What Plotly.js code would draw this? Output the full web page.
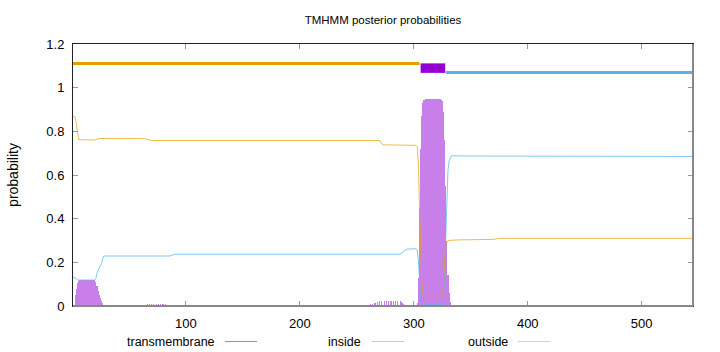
<!DOCTYPE html>
<html>
<head>
<meta charset="utf-8">
<script src="https://cdn.plot.ly/plotly-3.0.1.min.js"></script>
<style>html,body{margin:0;padding:0;background:#fff}#chart{width:720px;height:352px}</style>
</head>
<body>
<div id="chart"></div>
<script>
// Chart values
const titleText = "TMHMM posterior probabilities";
const yLabel = "probability";
const seriesNames = ["transmembrane", "inside", "outside"];
const xTicks = [100, 200, 300, 400, 500];
const yTicks = [0, 0.2, 0.4, 0.6, 0.8, 1, 1.2];
const seqLength = 545;

// transmembrane posterior (impulses per residue)
const tmX = [3,4,5,6,7,8,9,10,11,12,13,14,15,16,17,18,19,20,21,22,23,24,25,26,27,28,
  62,63,64,66,68,70,72,74,76,78,80,82,84,86,87,88,89,92,96,100,104,108,112,116,
  255,258,262,264,266,268,270,272,274,276,278,280,282,284,286,288,289,290,291,292,293,294,
  302,303,304,305,306,307,308,309,310,311,312,313,314,315,316,317,318,319,320,321,322,323,324,325,326,327,328,329,330,331,332,333,
  350,354,358,362,366,370,373];
const tmY = [0.05,0.08,0.105,0.115,0.119,0.12,0.12,0.12,0.12,0.12,0.12,0.12,0.12,0.12,0.12,0.12,0.12,0.12,0.11,0.09,0.07,0.05,0.035,0.025,0.012,0.004,
  0.002,0.004,0.006,0.007,0.007,0.007,0.007,0.007,0.007,0.007,0.007,0.007,0.006,0.006,0.005,0.003,0.002,0.001,0.001,0.001,0.001,0.001,0.001,0.001,
  0.002,0.004,0.008,0.011,0.015,0.02,0.023,0.024,0.024,0.024,0.024,0.024,0.024,0.024,0.023,0.022,0.02,0.015,0.01,0.006,0.003,0.001,
  0.003,0.015,0.13,0.45,0.72,0.87,0.93,0.945,0.95,0.95,0.95,0.95,0.95,0.95,0.95,0.95,0.95,0.95,0.95,0.95,0.95,0.948,0.945,0.94,0.89,0.76,0.55,0.30,0.14,0.06,0.02,0.005,
  0.003,0.003,0.003,0.003,0.003,0.003,0.003];

// inside posterior
const inX = [1,3,5,20,21,22,24,26,27,28,86,88,90,288,290,292,294,302,303,304,305,306,307,309,325,326,327,328,329,330,331,332,333,345,545];
const inY = [0.130,0.128,0.119,0.119,0.125,0.150,0.175,0.195,0.215,0.229,0.229,0.233,0.237,0.237,0.245,0.255,0.261,0.262,0.255,0.21,0.10,0.04,0.015,0.006,0.006,0.03,0.15,0.35,0.52,0.62,0.665,0.68,0.688,0.687,0.685];

// outside posterior
const outX = [1,3,4,5,6,20,22,24,63,66,70,270,271,273,302,303,304,305,306,307,308,309,325,326,327,328,329,330,340,370,375,545];
const outY = [0.870,0.865,0.83,0.78,0.762,0.760,0.763,0.767,0.767,0.763,0.758,0.758,0.748,0.738,0.736,0.73,0.66,0.45,0.24,0.11,0.06,0.047,0.047,0.08,0.20,0.27,0.292,0.300,0.303,0.305,0.310,0.310];

// predicted topology segments (top bar)
const topoStart = [1, 306, 328];
const topoEnd = [305, 327.6, 545];
const topoLevel = [1.111, 1.0895, 1.0695];

const topoColors = ["#e69f00", "#9400d3", "#56b4e9"];
const topoWidths = [3, 9.5, 3];
const curveColors = ["rgba(148,0,211,0.5)", "rgba(86,180,233,0.75)", "rgba(230,159,0,0.7)"];
const legendColors = ["rgba(148,0,211,0.55)", "rgba(86,180,233,0.55)", "rgba(230,159,0,0.5)"];

const traces = [];
traces.push({type:"bar", x: tmX, y: tmY, width: 1, name: seriesNames[0],
  marker:{color: curveColors[0], line:{width:0}}, hoverinfo:"skip", showlegend:false});
traces.push({type:"scatter", mode:"lines", x: inX, y: inY, name: seriesNames[1],
  line:{color: curveColors[1], width:1}, showlegend:false});
traces.push({type:"scatter", mode:"lines", x: outX, y: outY, name: seriesNames[2],
  line:{color: curveColors[2], width:1}, showlegend:false});
for (let i = 0; i < topoStart.length; i++) {
  traces.push({type:"scatter", mode:"lines", x:[topoStart[i], topoEnd[i]], y:[topoLevel[i], topoLevel[i]],
    line:{color: topoColors[i], width: topoWidths[i]}, showlegend:false, hoverinfo:"skip"});
}

const fontFam = "Liberation Sans, Arial, sans-serif";
// legend drawn gnuplot-style: text then sample line
const legTextRight = [217, 363, 510];
const legLineStart = [225, 372, 518];
const legLineLen = 32;
const L = 73, R = 693, T = 44, B = 306;
const px2x = p => (p - L) / (R - L);
const py2y = p => (B - p) / (B - T);
const legY = 341.5;
const annotations = [], shapes = [];
for (let i = 0; i < 3; i++) {
  annotations.push({text: seriesNames[i], xref:"paper", yref:"paper", x: px2x(legTextRight[i]), y: py2y(legY),
    xanchor:"right", yanchor:"middle", showarrow:false, font:{family:fontFam, size:12.5, color:"#000"}});
  shapes.push({type:"line", xref:"paper", yref:"paper", x0: px2x(legLineStart[i]), x1: px2x(legLineStart[i]+legLineLen),
    y0: py2y(legY), y1: py2y(legY), line:{color: legendColors[i], width:1}});
}
// gray bottom and right borders as in the reference
shapes.push({type:"line", xref:"paper", yref:"paper", x0:0, x1:1, y0:0, y1:0, line:{color:"#888", width:2}});
shapes.push({type:"line", xref:"paper", yref:"paper", x0:1, x1:1, y0:0, y1:1, line:{color:"#888", width:2}});

const layout = {
  width:720, height:352,
  margin:{l:L, r:720-R, t:T, b:352-B, pad:0},
  paper_bgcolor:"#fff", plot_bgcolor:"#fff",
  font:{family:fontFam, size:12, color:"#000"},
  title:{text: titleText, x:0.5, xref:"paper", xanchor:"center", y:1-20/352, yref:"container", yanchor:"middle",
    font:{family:fontFam, size:11.5, color:"#000"}},
  showlegend:false,
  bargap:0,
  xaxis:{range:[1, seqLength], tickvals: xTicks, ticktext: xTicks.map(String), ticks:"inside", ticklen:5,
    tickcolor:"#999", showline:true, linecolor:"#222", linewidth:1, mirror:"ticks", showgrid:false, zeroline:false,
    ticklabelstandoff:5, tickfont:{family:fontFam, size:13}},
  yaxis:{range:[0, 1.2], tickvals: yTicks, ticktext: yTicks.map(String), ticks:"inside", ticklen:5,
    tickcolor:"#999", showline:true, linecolor:"#222", linewidth:1, mirror:"ticks", showgrid:false, zeroline:false,
    ticklabelstandoff:5, tickfont:{family:fontFam, size:13},
    title:{text: yLabel, standoff: 24, font:{family:fontFam, size:14}}},
  annotations: annotations,
  shapes: shapes
};

Plotly.newPlot("chart", traces, layout, {displayModeBar:false, staticPlot:true});
</script>
</body>
</html>
